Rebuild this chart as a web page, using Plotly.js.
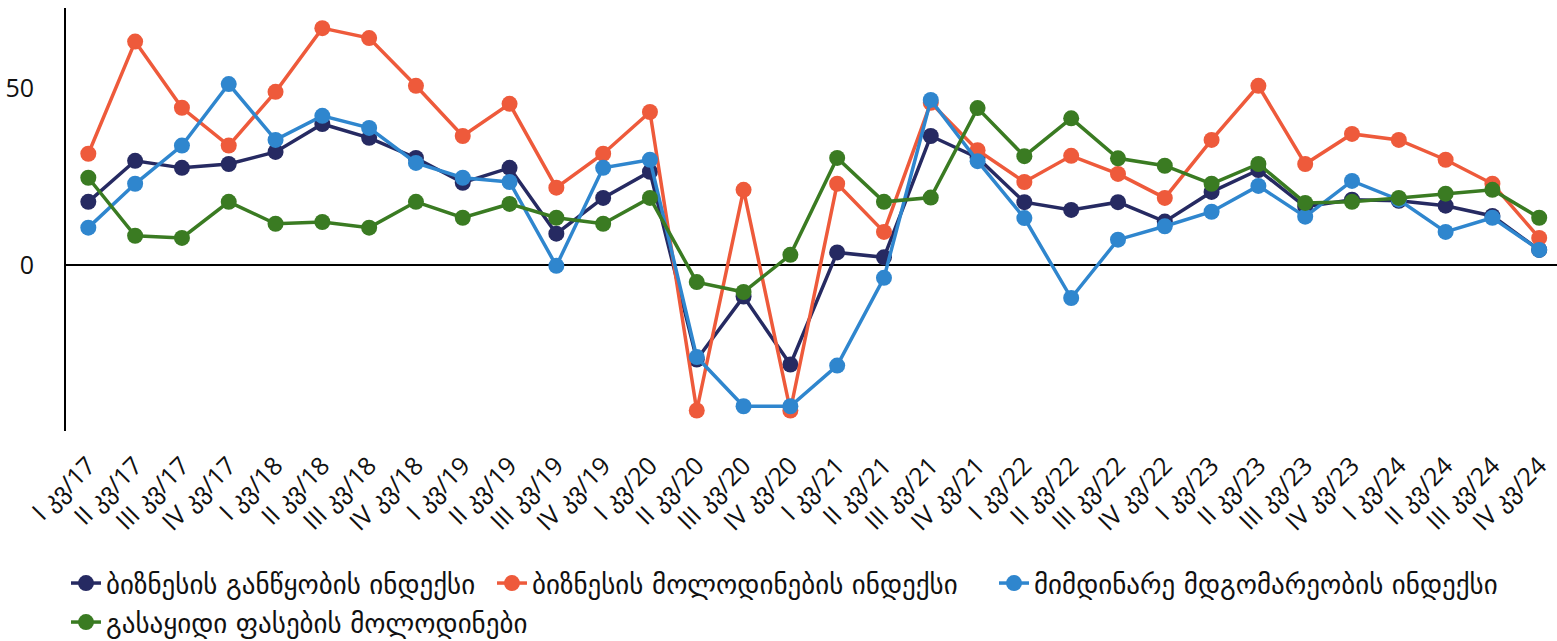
<!DOCTYPE html>
<html>
<head>
<meta charset="utf-8">
<script src="https://cdn.plot.ly/plotly-3.0.1.min.js"></script>
<style>html,body{margin:0;padding:0;background:#fff;}#chart{width:1557px;height:641px;}</style>
</head>
<body>
<div id="chart"></div>
<script>
const categories = [
  "I კვ/17","II კვ/17","III კვ/17","IV კვ/17",
  "I კვ/18","II კვ/18","III კვ/18","IV კვ/18",
  "I კვ/19","II კვ/19","III კვ/19","IV კვ/19",
  "I კვ/20","II კვ/20","III კვ/20","IV კვ/20",
  "I კვ/21","II კვ/21","III კვ/21","IV კვ/21",
  "I კვ/22","II კვ/22","III კვ/22","IV კვ/22",
  "I კვ/23","II კვ/23","III კვ/23","IV კვ/23",
  "I კვ/24","II კვ/24","III კვ/24","IV კვ/24"
];
const seriesNames = [
  "ბიზნესის განწყობის ინდექსი",
  "ბიზნესის მოლოდინების ინდექსი",
  "მიმდინარე მდგომარეობის ინდექსი",
  "გასაყიდი ფასების მოლოდინები"
];
const confidence = [17.8,29.4,27.4,28.5,31.9,39.8,35.9,30.2,23.2,27.4,8.8,18.9,26.3,-26.8,-9.0,-28.2,3.5,2.1,36.4,30.3,17.7,15.5,17.7,12.2,20.6,26.8,16.4,18.4,18.1,16.7,13.8,4.2];
const expectations = [31.4,63.1,44.4,33.7,48.9,66.9,64.1,50.6,36.4,45.5,21.8,31.4,43.2,-41.2,21.2,-41.2,22.9,9.3,45.8,32.4,23.4,30.8,25.7,18.9,35.3,50.6,28.5,37.0,35.3,29.7,22.9,7.6];
const current = [10.5,22.9,33.7,51.1,35.3,42.1,38.7,28.8,24.6,23.4,-0.3,27.4,29.7,-26.1,-40.0,-40.0,-28.5,-3.7,46.6,29.3,13.2,-9.4,7.1,10.9,15.0,22.3,13.6,23.7,18.4,9.3,13.3,4.2];
const pricing = [24.6,8.2,7.6,17.8,11.6,12.1,10.5,17.8,13.3,17.2,13.3,11.6,18.9,-4.9,-7.7,2.8,30.2,17.8,19.0,44.3,30.7,41.4,30.1,28.0,22.9,28.5,17.5,17.8,18.9,20.1,21.2,13.3];

const colors = ["#262A62","#EE5A3B","#2F86CE","#3A7B22"];
const dataSets = [confidence, expectations, current, pricing];
const legendIds = ["legend", "legend2", "legend3", "legend4"];

const traces = dataSets.map((d, i) => ({
  type: "scatter",
  mode: "lines+markers",
  name: seriesNames[i],
  legend: legendIds[i],
  x: categories,
  y: d,
  line: {color: colors[i], width: 3.5},
  marker: {color: colors[i], size: 16}
}));

function legendAt(x, y) {
  return {
    orientation: "h",
    x: x, xanchor: "left",
    y: y, yanchor: "top",
    font: {size: 27, family: "DejaVu Sans, sans-serif", color: "#111"},
    bgcolor: "rgba(0,0,0,0)"
  };
}

const layout = {
  width: 1557,
  height: 641,
  margin: {l: 66, r: 0, t: 8, b: 210, autoexpand: false},
  paper_bgcolor: "#ffffff",
  plot_bgcolor: "#ffffff",
  showlegend: true,
  font: {family: "Open Sans, DejaVu Sans, sans-serif", color: "#111111"},
  xaxis: {
    type: "category",
    automargin: false,
    range: [-0.477, 31.38],
    tickangle: -45,
    tickfont: {size: 25, family: "Open Sans, DejaVu Sans, sans-serif", color: "#111"},
    ticklabelstandoff: 14,
    showgrid: false,
    zeroline: false,
    showline: false,
    ticks: ""
  },
  yaxis: {
    automargin: false,
    range: [-47, 72.6],
    tickvals: [0, 50],
    ticktext: ["0", "50"],
    tickfont: {size: 25, family: "Open Sans, DejaVu Sans, sans-serif", color: "#111"},
    showgrid: false,
    zeroline: true,
    zerolinecolor: "#000000",
    zerolinewidth: 1.5,
    showline: true,
    linecolor: "#000000",
    linewidth: 2,
    ticks: "",
    ticklabelstandoff: 25
  },
  legend: legendAt(0.0, -0.3026),
  legend2: legendAt(0.2857, -0.3026),
  legend3: legendAt(0.6224, -0.3026),
  legend4: legendAt(0.0, -0.3948)
};

Plotly.newPlot("chart", traces, layout, {displayModeBar: false, staticPlot: true});
</script>
</body>
</html>
